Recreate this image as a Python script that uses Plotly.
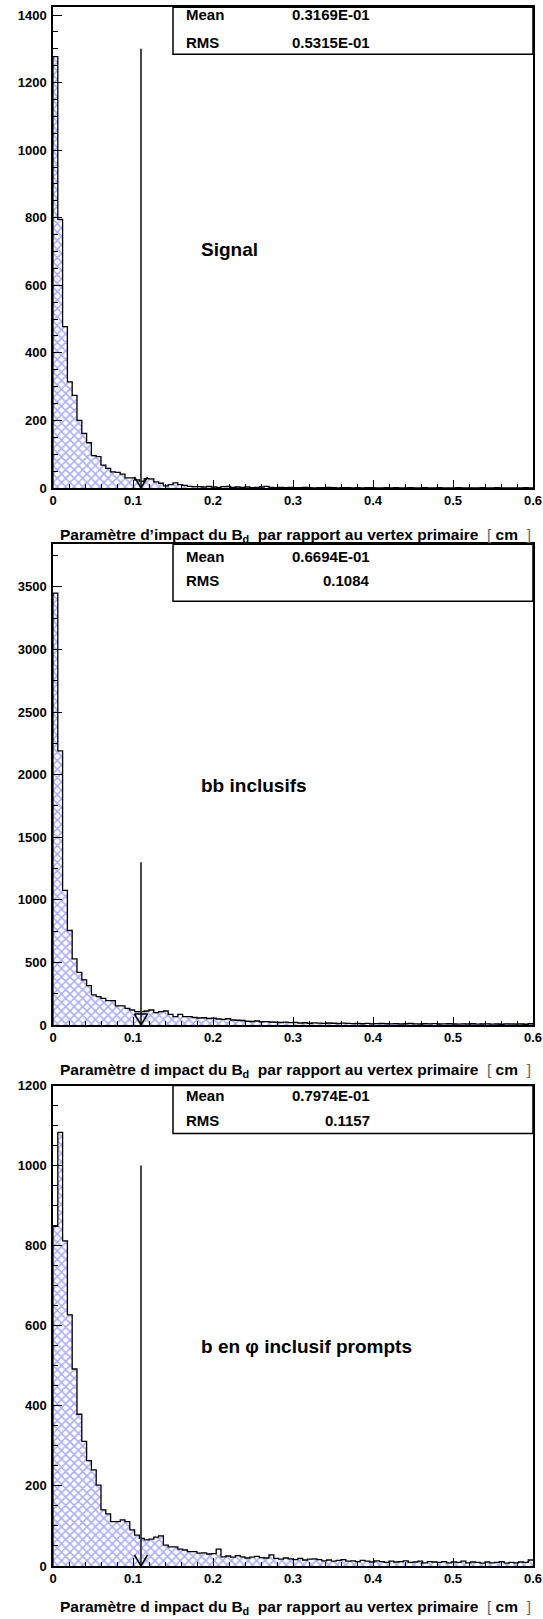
import plotly.graph_objects as go
from plotly.subplots import make_subplots

# ---------------- data ----------------
BIN_W = 0.006
X_MAX = 0.6
X_TICKS = [0, 0.1, 0.2, 0.3, 0.4, 0.5, 0.6]
X_TICK_LABELS = ["0", "0.1", "0.2", "0.3", "0.4", "0.5", "0.6"]

signal_counts = [
    1277, 795, 478, 314, 274, 200, 162, 134, 96, 93,
    68, 58, 48, 46, 41, 30, 30, 24, 20, 28,
    27, 18, 14, 6, 10, 15, 10, 8, 5, 4,
    4, 3, 5, 3, 2, 4, 5, 2, 3, 2,
    3, 1, 2, 3, 5, 2, 1, 2, 1, 2,
    1, 1, 2, 1, 0, 1, 1, 2, 1, 0,
    1, 1, 0, 1, 0, 1, 1, 0, 0, 1,
    0, 1, 0, 0, 1, 0, 0, 1, 0, 0,
    1, 0, 0, 0, 1, 0, 0, 0, 0, 1,
    0, 0, 1, 0, 0, 0, 0, 0, 1, 0,
]

bb_counts = [
    3450, 2190, 1075, 755, 528, 421, 360, 315, 240, 227,
    213, 195, 195, 152, 152, 133, 120, 107, 107, 112,
    120, 99, 107, 112, 85, 67, 85, 67, 67, 60,
    56, 58, 52, 55, 48, 45, 50, 40, 38, 36,
    30, 28, 32, 26, 27, 24, 22, 20, 23, 19,
    21, 16, 18, 14, 17, 15, 13, 16, 14, 12,
    15, 13, 11, 12, 10, 13, 9, 11, 12, 10,
    9, 11, 8, 10, 12, 9, 8, 10, 9, 11,
    8, 9, 10, 8, 7, 9, 8, 10, 7, 8,
    9, 7, 8, 6, 9, 8, 7, 8, 6, 10,
]

phi_counts = [
    848, 1083, 812, 627, 492, 379, 311, 263, 240, 202,
    140, 130, 111, 111, 115, 111, 90, 77, 69, 65,
    67, 72, 75, 52, 48, 48, 42, 40, 36, 36,
    32, 33, 30, 31, 42, 23, 25, 22, 26, 23,
    20, 22, 24, 21, 20, 28, 19, 17, 20, 18,
    16, 19, 15, 17, 18, 16, 13, 15, 12, 14,
    16, 12, 13, 11, 14, 12, 10, 13, 11, 9,
    12, 10, 11, 13, 9, 10, 12, 8, 11, 10,
    9, 11, 8, 10, 9, 12, 8, 10, 9, 7,
    10, 8, 9, 11, 7, 9, 8, 10, 9, 15,
]

panel_labels = ["Signal", "bb inclusifs", "b en \u03c6 inclusif prompts"]
mean_texts = ["0.3169E-01", "0.6694E-01", "0.7974E-01"]
rms_texts = ["0.5315E-01", "0.1084", "0.1157"]
axis_titles = [
    "Param\u00e8tre d\u2019impact du B<sub>d</sub>  par rapport au vertex primaire",
    "Param\u00e8tre d impact du B<sub>d</sub>  par rapport au vertex primaire",
    "Param\u00e8tre d impact du B<sub>d</sub>  par rapport au vertex primaire",
]
y_max = [1423, 3840, 1200]
y_dtick = [200, 500, 200]
y_minor = [50, 250, 50]
cut_x = 0.11
arrow_top = [1300, 1300, 1000]

all_counts = [signal_counts, bb_counts, phi_counts]

# ---------------- layout geometry ----------------
W, H = 543, 1619
ML, MR, MT, MB = 53, 10, 7, 53
plot_w = W - ML - MR
plot_h = H - MT - MB
panel_px = [(7.3, 488.0), (544.3, 1025.0), (1085.5, 1566.0)]  # top, bottom (pixels)


def py_to_paper(py):
    return (H - MB - py) / plot_h


FONT = "Liberation Sans, Arial, Helvetica, sans-serif"
FILL_FG = "#5a5af0"

fig = make_subplots(rows=3, cols=1)

for i, counts in enumerate(all_counts):
    row = i + 1
    n = len(counts)
    centers = [BIN_W * (k + 0.5) for k in range(n)]
    fig.add_trace(go.Bar(
        x=centers, y=counts, width=BIN_W,
        marker=dict(color="white", line=dict(width=0),
                    pattern=dict(shape="x", fgcolor=FILL_FG, bgcolor="white",
                                 size=6, solidity=0.45)),
        showlegend=False, hoverinfo="skip"), row=row, col=1)
    xs = [0.0] + [BIN_W * k for k in range(n)] + [X_MAX]
    ys = [0] + list(counts) + [counts[-1]]
    fig.add_trace(go.Scatter(
        x=xs, y=ys, mode="lines", line=dict(color="black", width=1.3, shape="hv"),
        showlegend=False, hoverinfo="skip"), row=row, col=1)

    # cut arrow
    fig.add_trace(go.Scatter(
        x=[cut_x, cut_x], y=[arrow_top[i], 0], mode="lines",
        line=dict(color="#333333", width=1.8), showlegend=False, hoverinfo="skip"),
        row=row, col=1)
    dx = 6.5 * X_MAX / plot_w
    dy = 11 * y_max[i] / (panel_px[i][1] - panel_px[i][0])
    if i == 1:
        hx = [cut_x - dx, cut_x, cut_x + dx, cut_x - dx]
        hy = [dy, 0, dy, dy]
    else:
        hx = [cut_x - dx, cut_x, cut_x + dx]
        hy = [dy, 0, dy]
    fig.add_trace(go.Scatter(
        x=hx, y=hy, mode="lines", line=dict(color="black", width=1.5),
        showlegend=False, hoverinfo="skip"), row=row, col=1)

    xa = "xaxis" if i == 0 else f"xaxis{row}"
    ya = "yaxis" if i == 0 else f"yaxis{row}"
    top, bot = panel_px[i]
    fig.layout[ya].update(
        domain=[py_to_paper(bot), py_to_paper(top)],
        range=[0, y_max[i]], dtick=y_dtick[i], tick0=0,
        ticks="inside", ticklen=9, tickwidth=1.2, tickcolor="black",
        minor=dict(dtick=y_minor[i], ticks="inside", ticklen=5, tickcolor="black", tickwidth=1),
        showline=True, linecolor="black", linewidth=1.5, mirror=True,
        showgrid=False, zeroline=False, automargin=False,
        tickfont=dict(family=FONT, size=13, color="black", weight="bold"),
        ticklabelstandoff=2,
    )
    fig.layout[xa].update(
        domain=[0, 1],
        range=[0, X_MAX], tickvals=X_TICKS, ticktext=X_TICK_LABELS,
        ticks="inside", ticklen=8, tickwidth=1.2, tickcolor="black",
        minor=dict(dtick=0.02, ticks="inside", ticklen=4, tickcolor="black", tickwidth=1),
        showline=True, linecolor="black", linewidth=1.5, mirror=True,
        showgrid=False, zeroline=False, automargin=False,
        ticklabeloverflow="allow",
        tickfont=dict(family=FONT, size=13, color="black", weight="bold"),
    )

    xd = "x domain" if i == 0 else f"x{row} domain"
    yd = "y domain" if i == 0 else f"y{row} domain"
    hpx = bot - top
    box_px = [47, 57, 48][i]
    fig.add_shape(type="rect", xref=xd, yref=yd,
                  x0=(173 - ML) / plot_w, x1=1.0, y0=1 - box_px / hpx, y1=1.0,
                  line=dict(color="black", width=1.5), fillcolor="white", layer="above")
    mean_y = [7.2, 12.0, 9.5][i]
    rms_y = [35.0, 36.0, 34.5][i]
    for txt, yy, xx, anc in [("Mean", mean_y, 184, "left"), ("RMS", rms_y, 184, "left"),
                             (mean_texts[i], mean_y, 372, "right"),
                             (rms_texts[i], rms_y, 372, "right")]:
        fig.add_annotation(xref=xd, yref=yd, x=(xx - ML) / plot_w, y=1 - yy / hpx,
                           text=txt, showarrow=False, xanchor=anc, yanchor="middle",
                           font=dict(family=FONT, size=15, color="black", weight="bold"))
    lab_y = [241.7, 240.7, 260.5][i]
    fig.add_annotation(xref=xd, yref=yd, x=(199 - ML) / plot_w, y=1 - lab_y / hpx,
                       text=panel_labels[i], showarrow=False, xanchor="left", yanchor="middle",
                       font=dict(family=FONT, size=19, color="black", weight="bold"))

    title_py = [536, 1070, 1607][i]
    fig.add_annotation(
        xref="paper", yref="paper", x=1.0, y=py_to_paper(title_py),
        text=axis_titles[i] + '  <span style="font-weight:normal;color:#666">[</span> cm  '
             '<span style="font-weight:normal;color:#666">]</span>',
        showarrow=False, xanchor="right", yanchor="middle",
        font=dict(family=FONT, size=15.5, color="black", weight="bold"))

fig.update_layout(
    width=W, height=H,
    margin=dict(l=ML, r=MR, t=MT, b=MB, autoexpand=False),
    paper_bgcolor="white", plot_bgcolor="white",
    bargap=0, barmode="overlay", showlegend=False,
)

fig.write_html("out.html", config={"displayModeBar": False},
               post_script="document.body.style.margin='0px';document.body.style.overflow='hidden';")
